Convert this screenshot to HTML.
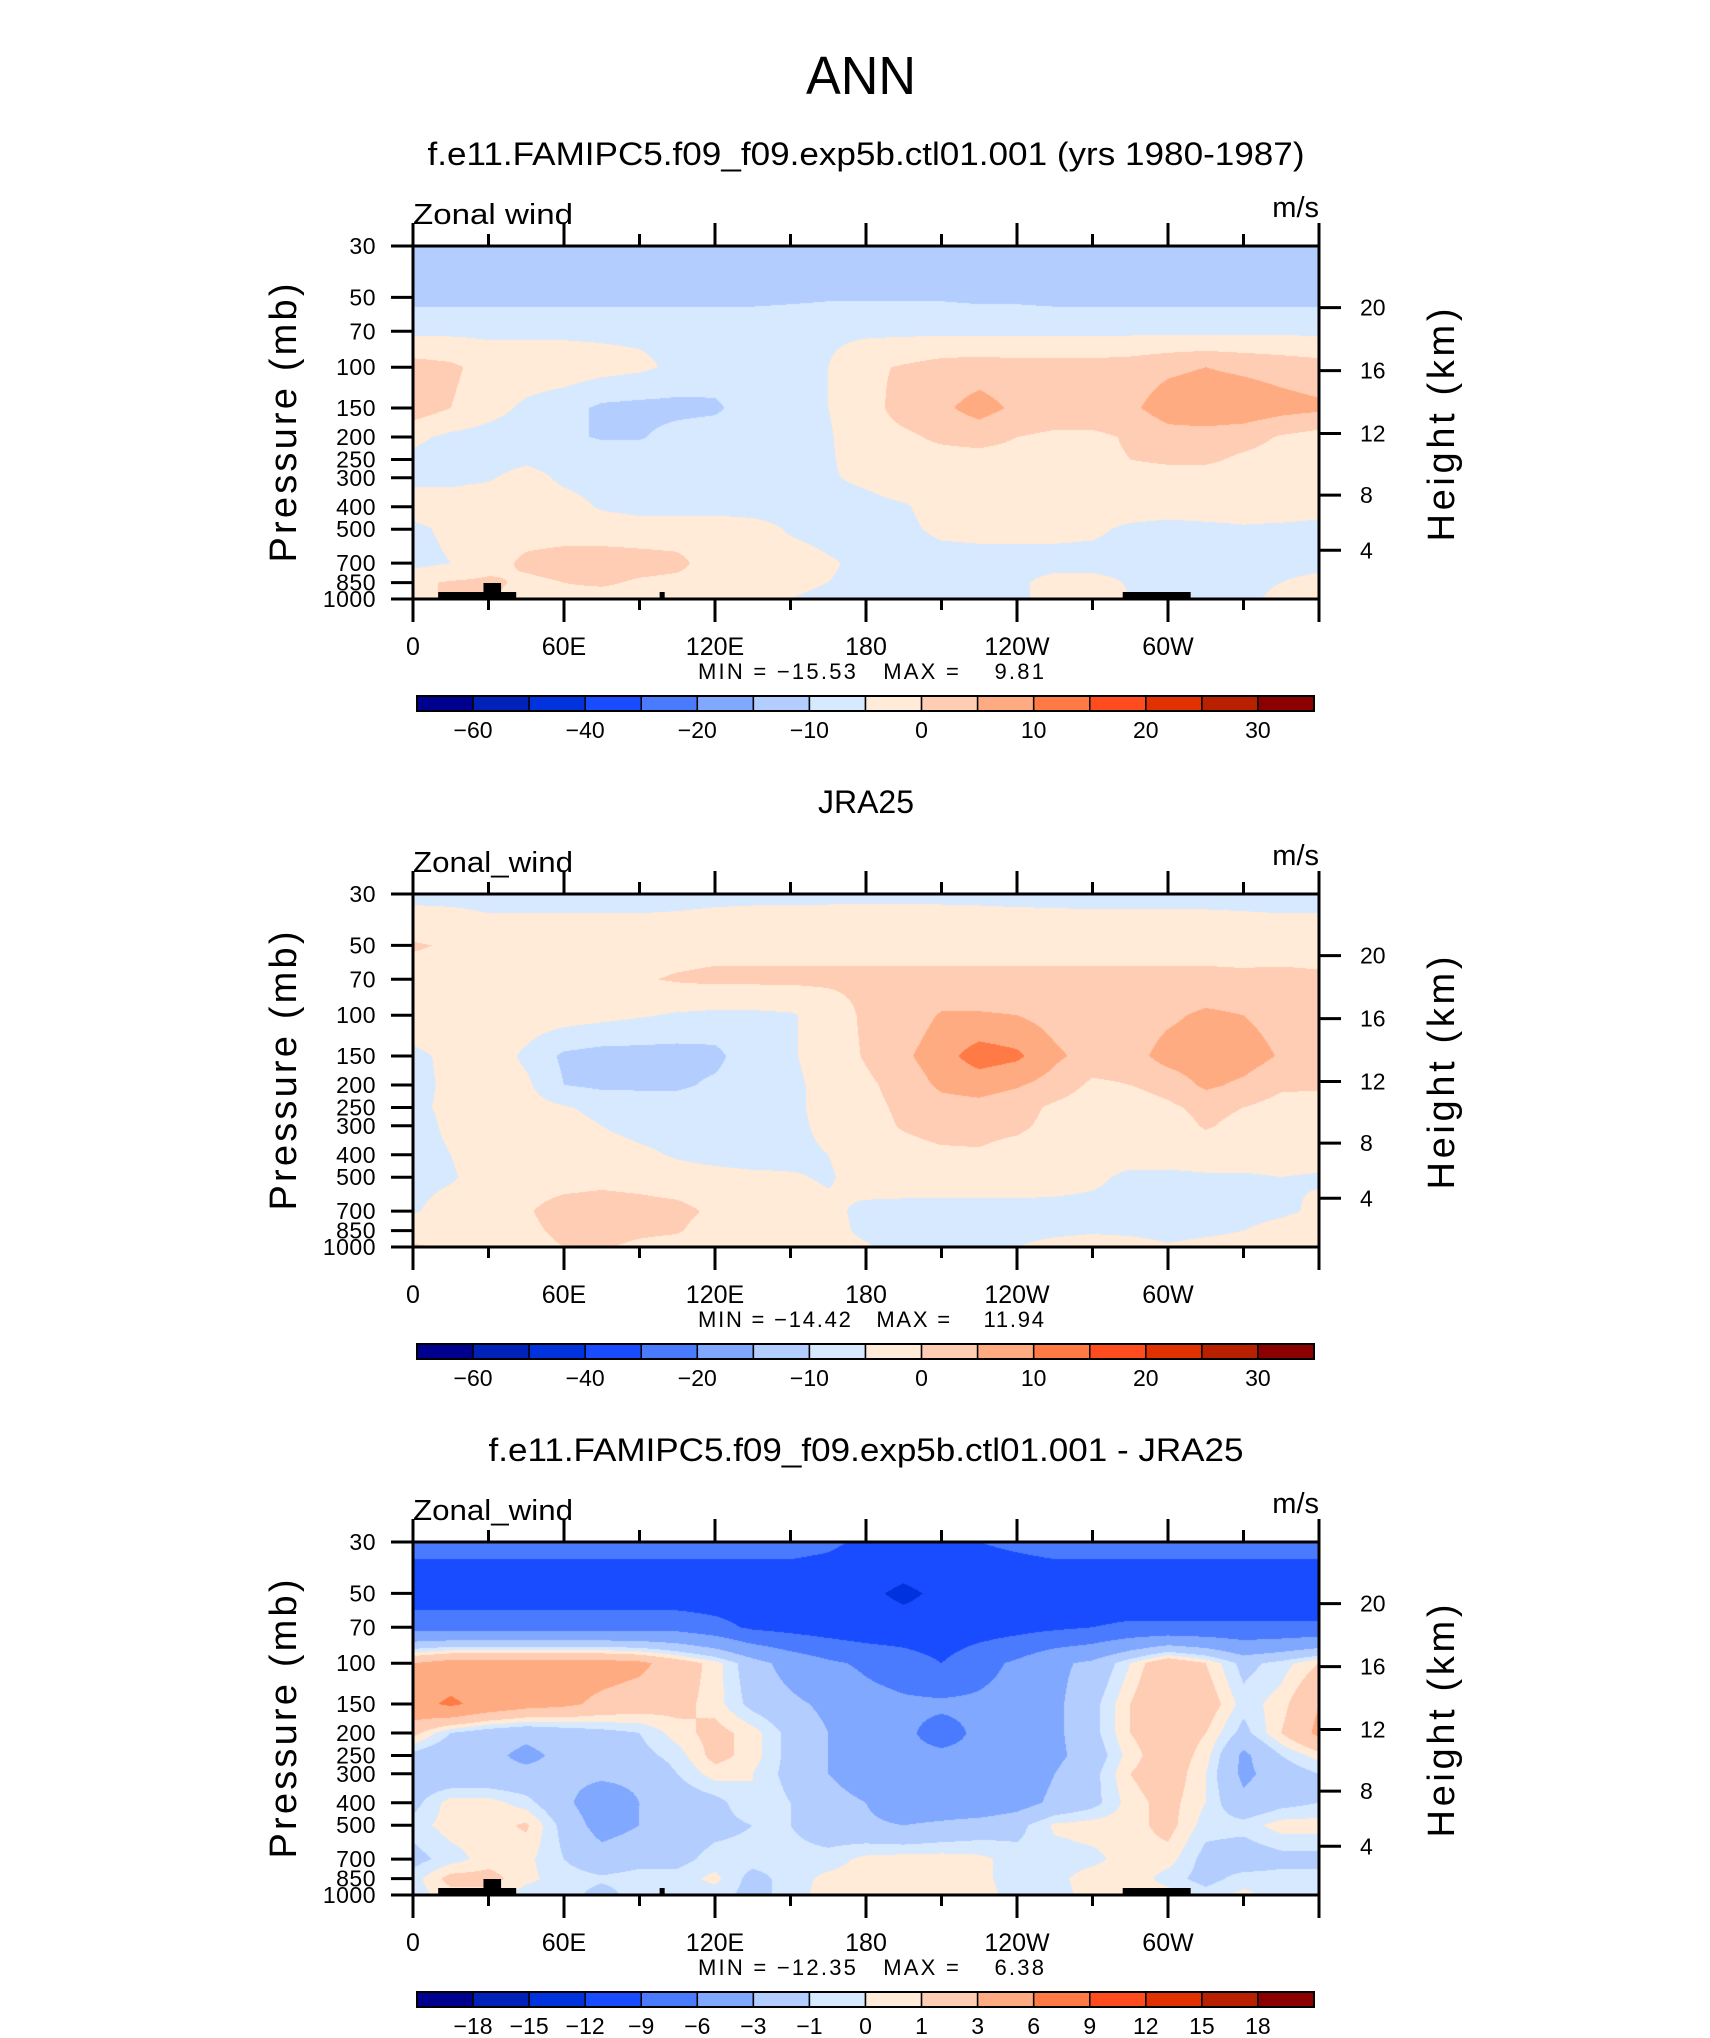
<!DOCTYPE html>
<html><head><meta charset="utf-8">
<style>
html,body{margin:0;padding:0;background:#fff;}
#wrap{position:relative;width:1710px;height:2038px;overflow:hidden;background:#fff;}
canvas{position:absolute;}
svg{position:absolute;left:0;top:0;}
text{font-family:"Liberation Sans",sans-serif;fill:#000;}
</style></head>
<body>
<div id="wrap">
<canvas id="c0"></canvas>
<canvas id="c1"></canvas>
<canvas id="c2"></canvas>
<svg id="ov" width="1710" height="2038"></svg>
</div>
<script>
// ---------- data ----------
const lons = [0,15,30,45,60,75,90,105,120,135,150,165,180,195,210,225,240,255,270,285,300,315,330,345,360];
const levels = [30,50,70,100,150,200,250,300,400,500,700,850,1000];
const levelLabels = ["30","50","70","100","150","200","250","300","400","500","700","850","1000"];
const heightKm = [4,8,12,16,20];
const heightPres = [616.4,356.5,193.3,103.5,55.3];
const lonTicks = [0,30,60,90,120,150,180,210,240,270,300,330,360];
const lonLabels = {0:"0",60:"60E",120:"120E",180:"180",240:"120W",300:"60W"};
const colors = ["#00008f","#0022b8","#0033dd","#1a4cff","#4a7bff","#80a8ff","#b3cdff","#d6e9ff","#ffebd8","#ffcdb3","#ffab82","#ff7a45","#ff4c1f","#e23100","#b82000","#8b0000"];
const bounds12 = [-60,-50,-40,-30,-20,-15,-10,-5,0,5,10,15,20,25,30];
const bounds3 = [-18,-15,-12,-9,-6,-3,-1,0,1,3,6,9,12,15,18];
const cbLabels12 = ["-60","","-40","","-20","","-10","","0","","10","","20","","30"];
const cbLabels3 = ["-18","-15","-12","-9","-6","-3","-1","0","1","3","6","9","12","15","18"];
const titles = ["f.e11.FAMIPC5.f09_f09.exp5b.ctl01.001 (yrs 1980-1987)","JRA25","f.e11.FAMIPC5.f09_f09.exp5b.ctl01.001 - JRA25"];
const varNames = ["Zonal wind","Zonal_wind","Zonal_wind"];
const minVals = ["-15.53","-14.42","-12.35"];
const maxVals = ["9.81","11.94","6.38"];

const model = [
[-12,-12,-12,-12,-12,-12,-12,-12,-12,-12,-12,-13,-13.5,-14,-14,-14,-14,-13.5,-13.5,-14,-14,-14,-13.5,-13,-13],
[-11.5,-11.5,-11.5,-11.5,-11.5,-11.5,-11.5,-11.5,-11.5,-11.5,-11,-10.5,-10.5,-10.5,-10.5,-11,-11,-11.5,-11.5,-11.5,-11.5,-11.5,-11.5,-11.5,-11.5],
[-6,-6,-6,-6,-6,-6,-6,-6,-6,-6,-6,-6,-6,-6,-6,-6,-6,-6,-6,-6,-6,-6,-6,-6,-6],
[2,1,-2,-2,-2,-3,-4,-6,-7,-7,-7,-5,-1,0.5,2,2.5,2,2,2,2.5,4,5,4,3,2],
[3,0,-3,-6,-8,-11,-11.5,-11.5,-11,-7,-6,-5,-2,2,4,7,4,3,3,4,7.5,8.5,8.5,7,6],
[-4,-6,-7,-7.5,-9,-10.5,-10.5,-8,-7,-7,-6.5,-5.5,-2,-1,1,2,0,-1,-1,0.5,3,3,2,-0.5,-2],
[-6,-7,-7,-6,-7,-7,-7,-7,-7,-7,-6.5,-5.5,-3,-2,-2,-2,-2,-1.5,-1,0,1,1,-1,-2,-2],
[-6,-6,-5.5,-3,-6,-7,-7,-7,-7,-7,-7,-5.5,-4,-2,-2.5,-2.5,-2.5,-2.5,-2.5,-2.5,-2.5,-2.5,-2.5,-2.5,-2.5],
[-3,-3,-2,-2,-3,-5.5,-7,-7,-7,-7,-7,-7,-6.5,-5.5,-3,-2,-2,-2,-2,-2.5,-3,-3,-3,-2.5,-3],
[-6,-4,-2,-2,-2,-2,-2,-2,-2,-3,-5.5,-6.5,-7,-6,-4,-3.5,-3.5,-3.5,-4,-6,-6.5,-6,-5.5,-6,-6.5],
[-6.5,-5,-2,1,2,2,1.5,1,-2,-2.5,-3,-4.5,-6,-7,-7,-7,-7,-7,-7,-7,-7,-7,-7,-7,-7],
[-1,0.5,1,-1,0,0.5,-0.5,-1,-1.5,-3,-4,-5,-6,-7,-7,-7,-6,-3,-3,-5.5,-6,-6,-6,-5,-3],
[-2,1,0.5,-2,-1,-1.5,-1,-2,-3,-4,-5,-6,-6.5,-7,-7,-7,-6,-3,-2,-5,-6,-6,-6,-4,-2]
];
const jra = [
[-6.5,-6.5,-6.5,-6.5,-6.5,-6.5,-6.5,-6.5,-6.2,-6,-6,-5.9,-5.8,-5.8,-5.9,-6,-6.2,-6.3,-6.5,-6.5,-6.5,-6.5,-6.5,-6.5,-6.5],
[0.5,-0.5,-2.5,-2.5,-2.5,-2.5,-2.5,-2,-1.5,-1.5,-1.5,-1.5,-1.5,-1.5,-1.5,-1.5,-1.5,-1.5,-1.5,-1.5,-1.5,-1.5,-2,-2.5,-2.5],
[-2,-2,-2,-2,-2,-2,-0.5,0.5,1,1,1,1,1,1,1,1,1,1,1,1,1,1,1,1.5,1],
[-2,-2,-2,-2,-2.5,-3.5,-4.5,-5.5,-6,-6,-5.5,-3,1,2,5.5,5.5,5,3,2,2,4,6,5,3,2],
[-6,-4,-2,-6,-11,-12,-12,-12,-11.5,-6.5,-5.5,-3,0.5,4,8,12.5,11,6,3,3,7,8,7.5,4.5,2],
[-6.5,-4,-2.5,-4,-10,-11,-11,-11,-9,-7,-6,-3.5,-1,2,6,7,5.5,3,-1,0,2,6,4,1,1],
[-6,-4,-2,-3,-4.5,-6.5,-7,-7,-7,-7,-6,-3.5,-1.5,1,3,3.5,2,-1,-3,-3,-1,1.5,0,-2,-3],
[-7,-4,-2,-2.5,-3,-5,-6.5,-7,-7,-7,-6.5,-3.5,-2,0.5,2,1.5,1,-1.5,-3,-3,-2.5,0.5,-1.5,-3,-3],
[-7,-5,-2.5,-2,-2,-3,-4,-5.5,-6.5,-7,-6.5,-5,-2.5,-2,-1,-0.5,-2,-3,-3,-3,-3,-3,-3,-3,-3],
[-6.5,-5.5,-3,-2,-2,-1.5,-2,-3,-3.5,-4,-4.5,-5.5,-3,-2.5,-2.5,-2.5,-2.5,-3,-4,-6,-6,-5.5,-5.5,-5,-5.5],
[-5.5,-3,-2,-0.5,2,2.5,2,1.5,-1,-2.5,-3,-4,-6,-6.5,-6.5,-6.5,-6.5,-6.5,-6.5,-6.5,-6.5,-6.5,-7,-6,-4],
[-2,-2.5,-2,-1,1,1.5,1,0.5,-2.5,-3,-3,-3.5,-6,-6.5,-6.5,-6.5,-6.5,-6,-5.5,-6,-6.5,-6,-5,-3,-2],
[0.5,-0.5,-2,-1.5,0,0.5,-1,-2,-2.5,-3,-3,-3,-4.5,-7,-7,-6,-5,-3.5,-3,-3,-4.5,-3.5,-3,-2,-2]
];
const diff = [
[-8,-8,-8,-8,-8,-8,-8,-8,-8,-8,-8,-8.5,-9.5,-10,-9.5,-9,-8.5,-8,-8,-8,-8,-8,-8,-8,-8],
[-11,-11,-11,-11,-11,-11,-11,-11,-11,-11,-11,-11,-11.5,-12.5,-11.5,-11,-11,-11,-11,-11,-11,-11,-11,-11,-11],
[-7,-7,-7,-7,-7,-7,-7,-7,-8,-9.5,-10,-10.5,-11,-11,-11,-10.5,-10,-9.5,-9,-8.5,-8.5,-8.5,-8.5,-8.5,-8.5],
[3,4,4,4,4,4,3.5,2,0.5,-2,-4,-5.5,-6.5,-7.5,-9,-7,-5.5,-3.5,-2.5,0,2.5,1,-1.5,-0.5,1],
[5,6.5,5,4,3.5,2.5,2,1.5,0.5,-1.5,-2.5,-3.5,-5,-5.5,-5.5,-5.5,-5,-3.5,-1.5,1,3,2,-0.5,0.5,3],
[1.5,-1,-2,-2.5,-2,-1.5,-1,0.5,1.5,0.5,-1.5,-3,-5,-5.5,-7,-5.5,-5,-3.5,-1.5,1,2,1,-1.5,1,3.5],
[-1.5,-2.5,-2.5,-3.5,-2.5,-2,-1.5,-0.5,1.5,0.5,-1.5,-3,-5,-5.5,-5.5,-5.5,-5,-3.5,-2,0.5,2,0.5,-3.5,-1,0.5],
[-2,-2.5,-2.5,-2.5,-2.5,-2.5,-2.5,-1,0.5,0,-1.5,-3,-4.5,-5,-5.5,-5,-4.5,-3,-1.5,1,2,0,-3.5,-2,-1],
[-1.5,0.5,0.5,-0.5,-2.5,-4.5,-3,-2,-1.5,0,-1,-2,-3,-5,-5,-5,-4,-2.5,-1.5,0.5,1.5,0,-2.5,-1.5,-1],
[-0.5,0.5,0.5,1.2,-1.5,-4,-3,-2,-1.5,-1,-1,-2,-2.5,-3,-2.5,-2,-1.5,0.2,0.5,0.5,1.5,-0.5,-0.5,0.5,0.5],
[-1.5,-0.5,0.5,0.3,-1,-2,-1.5,-1.5,-0.5,-0.5,-0.5,-0.5,0.3,0.5,0.5,0.3,-0.5,-0.5,-0.3,0.5,0.5,-1.5,-2,-1.5,-1.5],
[-0.5,1.5,1.5,0.3,-0.5,-0.8,-0.5,-0.5,0.3,-1.5,-0.5,0.3,0.5,0.5,0.5,0.3,-0.5,-0.3,0.5,0.8,-0.5,-1.5,-0.5,-0.5,-0.5],
[-0.5,0.5,0.5,-0.5,-0.5,-1.5,-0.5,-0.5,-0.5,-1.5,-0.5,0.5,0.5,0.5,0.5,0.5,-0.5,-0.5,0.5,0.5,0.5,-0.5,0.3,-0.5,-0.5]
];
const fields = [model, jra, diff];
const boundsList = [bounds12, bounds12, bounds3];
const cbLabelList = [cbLabels12, cbLabels12, cbLabels3];
const topoPanels = [true, false, true];

// ---------- layout ----------
const L = 413, R = 1319, T0 = 246, B0 = 599, DY = 648;
const W = R - L, H = B0 - T0;
const xOf = lon => L + lon / 360 * W;
const yOf = (p, top) => top + Math.log10(p / 30) / Math.log10(1000 / 30) * H;
const NS = "http://www.w3.org/2000/svg";
const ov = document.getElementById('ov');
function mk(tag, attrs, txt) {
  const e = document.createElementNS(NS, tag);
  for (const k in attrs) e.setAttribute(k, attrs[k]);
  if (txt !== undefined) e.textContent = txt;
  ov.appendChild(e);
  return e;
}
function bandOf(v, b) { let i = 0; while (i < b.length && v >= b[i]) i++; return i; }
function hex2rgb(h) { return [parseInt(h.slice(1,3),16), parseInt(h.slice(3,5),16), parseInt(h.slice(5,7),16)]; }
const rgb = colors.map(hex2rgb);

const ann = mk('text', {x: 861, y: 94, 'font-size': 54, 'text-anchor': 'middle', textLength: 110, lengthAdjust: 'spacingAndGlyphs'}, 'ANN');



for (let k = 0; k < 3; k++) {
  const top = T0 + DY * k, bot = B0 + DY * k;
  const field = fields[k], bounds = boundsList[k];
  const cv = document.getElementById('c' + k);
  cv.width = W; cv.height = H;
  cv.style.left = L + 'px'; cv.style.top = top + 'px';
  const ctx = cv.getContext('2d');
  const img = ctx.createImageData(W, H);
  const rowY = levels.map(p => yOf(p, 0));
  for (let py = 0; py < H; py++) {
    const yy = py + 0.5;
    let r = 0; while (r < rowY.length - 2 && yy > rowY[r + 1]) r++;
    let fy = (yy - rowY[r]) / (rowY[r + 1] - rowY[r]); fy = Math.max(0, Math.min(1, fy));
    for (let px = 0; px < W; px++) {
      const lon = (px + 0.5) / W * 360;
      let c = Math.min(lons.length - 2, Math.floor(lon / 15));
      const fx = (lon - lons[c]) / 15;
      const v = (field[r][c] * (1 - fx) + field[r][c + 1] * fx) * (1 - fy) + (field[r + 1][c] * (1 - fx) + field[r + 1][c + 1] * fx) * fy;
      const col = rgb[bandOf(v, bounds)];
      const o = (py * W + px) * 4;
      img.data[o] = col[0]; img.data[o + 1] = col[1]; img.data[o + 2] = col[2]; img.data[o + 3] = 255;
    }
  }
  ctx.putImageData(img, 0, 0);

  if (topoPanels[k]) {
    const topo = [[10, 41, 7], [28, 35, 16], [98, 100, 7], [282, 309, 7]];
    topo.forEach(t => {
      const tr = mk('rect', {x: xOf(t[0]), y: bot - t[2], width: xOf(t[1]) - xOf(t[0]), height: t[2], fill: '#000'});
      
      
    });
  }

  const tt = mk('text', {x: 866, y: 165 + DY * k, 'font-size': 32, 'text-anchor': 'middle'}, titles[k]);
  if (k !== 1) { tt.setAttribute('textLength', k === 0 ? 877 : 755); tt.setAttribute('lengthAdjust', 'spacingAndGlyphs'); }
  
  

  const vn = mk('text', {x: L, y: top - 22, 'font-size': 29, textLength: 160, lengthAdjust: 'spacingAndGlyphs'}, varNames[k]);
  
  
  const un = mk('text', {x: R, y: top - 29, 'font-size': 29, 'text-anchor': 'end'}, 'm/s');
  
  

  const fr = mk('rect', {x: L, y: top, width: W, height: H, fill: 'none', stroke: '#000', 'stroke-width': 3});
  
  

  lonTicks.forEach(lon => {
    const major = lon % 60 === 0;
    const x = xOf(lon);
    const t1 = mk('line', {x1: x, x2: x, y1: top, y2: top - (major ? 23 : 12), stroke: '#000', 'stroke-width': 3});
    
    
    const t2 = mk('line', {x1: x, x2: x, y1: bot, y2: bot + (major ? 23 : 11), stroke: '#000', 'stroke-width': 3});
    
    
    if (lonLabels[lon] !== undefined) {
      const lt = mk('text', {x: x, y: bot + 56, 'font-size': 25, 'text-anchor': 'middle'}, lonLabels[lon]);
      
      
    }
  });

  levels.forEach((p, i) => {
    const y = yOf(p, top);
    const t = mk('line', {x1: 391, x2: L, y1: y, y2: y, stroke: '#000', 'stroke-width': 3});
    
    
    const lt = mk('text', {x: 376, y: y + 8, 'font-size': 23, 'text-anchor': 'end', 'letter-spacing': '0.5'}, levelLabels[i]);
    
    
  });
  heightKm.forEach((z, i) => {
    const y = yOf(heightPres[i], top);
    const t = mk('line', {x1: R, x2: R + 22, y1: y, y2: y, stroke: '#000', 'stroke-width': 3});
    
    
    const lt = mk('text', {x: 1360, y: y + 8, 'font-size': 23}, String(z));
    
    
  });

  const yt = mk('text', {x: 0, y: 0, 'font-size': 38, 'text-anchor': 'middle', textLength: 279, transform: `translate(296,${423 + DY * k}) rotate(-90)`}, 'Pressure  (mb)');
  
  
  const ht = mk('text', {x: 0, y: 0, 'font-size': 38, 'text-anchor': 'middle', textLength: 233, transform: `translate(1454,${425 + DY * k}) rotate(-90)`}, 'Height  (km)');
  
  

  const mm = mk('text', {x: 698, y: 679 + DY * k, 'font-size': 22, textLength: 346, 'xml:space': 'preserve', style: 'white-space:pre'}, `MIN = \u2212${minVals[k].replace('-', '')}   MAX =    ${maxVals[k]}`);
  
  

  const cbL = 417, cbR = 1314, cbT = 696 + DY * k, cbH = 15;
  const bw = (cbR - cbL) / colors.length;
  colors.forEach((c, i) => {
    const r = mk('rect', {x: cbL + i * bw, y: cbT, width: bw, height: cbH, fill: c, stroke: '#000', 'stroke-width': 1.5});
    
    
  });
  const cbf = mk('rect', {x: cbL, y: cbT, width: cbR - cbL, height: cbH, fill: 'none', stroke: '#000', 'stroke-width': 2});
  
  
  cbLabelList[k].forEach((lab, i) => {
    if (!lab) return;
    const t = mk('text', {x: cbL + (i + 1) * bw, y: cbT + 42, 'font-size': 23, 'text-anchor': 'middle'}, lab.replace('-', '\u2212'));
    
    
  });
}
</script>
</body></html>
